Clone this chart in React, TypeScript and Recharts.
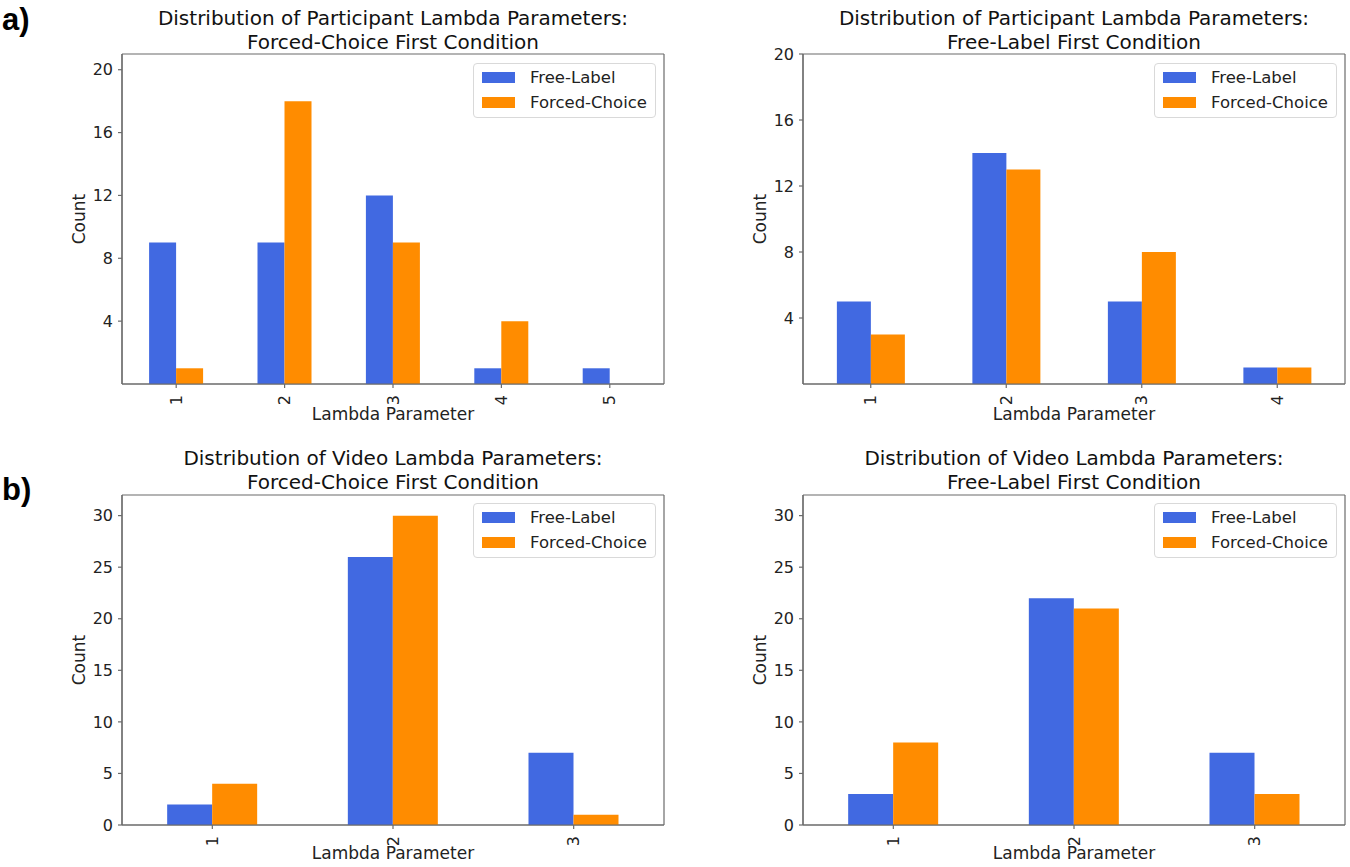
import { BarChart, Bar, XAxis, YAxis, Legend, Label, CartesianGrid } from 'recharts';

const FONT = '"DejaVu Sans", sans-serif';
const BLUE = '#4169E1';
const ORANGE = '#FF8C00';
const AXIS = '#6b6b6b';

// participant lambda, forced-choice first
const partFcCats = ['1', '2', '3', '4', '5'];
const partFcFree = [9, 9, 12, 1, 1];
const partFcForced = [1, 18, 9, 4, 0];

// participant lambda, free-label first
const partFlCats = ['1', '2', '3', '4'];
const partFlFree = [5, 14, 5, 1];
const partFlForced = [3, 13, 8, 1];

// video lambda, forced-choice first
const vidFcCats = ['1', '2', '3'];
const vidFcFree = [2, 26, 7];
const vidFcForced = [4, 30, 1];

// video lambda, free-label first
const vidFlCats = ['1', '2', '3'];
const vidFlFree = [3, 22, 7];
const vidFlForced = [8, 21, 3];

const partTicks = [4, 8, 12, 16, 20];
const vidTicks = [0, 5, 10, 15, 20, 25, 30];

const XTick = ({ x, y, payload }: any) => (
  <text
    x={x}
    y={y}
    transform={`rotate(-90 ${x} ${y})`}
    textAnchor="end"
    dominantBaseline="central"
    fontSize={16}
    fontFamily={FONT}
    fill="#222"
  >
    {payload.value}
  </text>
);

const LegendBox = () => (
  <div
    style={{
      width: 183,
      height: 55,
      boxSizing: 'border-box',
      border: '1px solid #d9d9d9',
      borderRadius: 4,
      background: 'rgba(255,255,255,0.8)',
      position: 'relative',
      fontFamily: FONT,
      fontSize: 16.5,
      color: '#222',
    }}
  >
    {[
      { name: 'Free-Label', color: BLUE, cy: 14 },
      { name: 'Forced-Choice', color: ORANGE, cy: 39 },
    ].map((e) => (
      <div key={e.name}>
        <div style={{ position: 'absolute', left: 8, top: e.cy - 6, width: 33, height: 11, background: e.color }} />
        <div style={{ position: 'absolute', left: 56, top: e.cy - 10, lineHeight: '20px', whiteSpace: 'nowrap' }}>{e.name}</div>
      </div>
    ))}
  </div>
);

interface PanelProps {
  left: number;
  top: number;
  width: number;
  height: number;
  margin: { top: number; right: number; bottom: number; left: number };
  cats: string[];
  free: number[];
  forced: number[];
  domain: [number, number];
  ticks: number[];
  title: string[];
  titleTop: number;
  legendTop: number;
  legendLeft: number;
  xLabelDy: number;
}

const Panel = (p: PanelProps) => {
  const data = p.cats.map((c, i) => ({ cat: c, free: p.free[i], forced: p.forced[i] }));
  const plotLeft = p.margin.left + 62;
  const plotRight = p.width - p.margin.right;
  const cx = (plotLeft + plotRight) / 2;
  return (
    <div style={{ position: 'absolute', left: p.left, top: p.top, width: p.width, height: p.height }}>
      <div
        style={{
          position: 'absolute',
          top: p.titleTop,
          left: cx - 300,
          width: 600,
          textAlign: 'center',
          fontFamily: FONT,
          fontSize: 20,
          lineHeight: '24px',
          color: '#111',
        }}
      >
        {p.title.map((t) => (
          <div key={t}>{t}</div>
        ))}
      </div>
      <BarChart width={p.width} height={p.height} data={data} margin={p.margin} barCategoryGap="25%" barGap={0}>
        {/* plot frame: lines at the four edges of the plot area */}
        <CartesianGrid
          stroke={AXIS}
          strokeWidth={1.2}
          horizontalCoordinatesGenerator={({ offset }: any) => [offset.top, offset.top + offset.height]}
          verticalCoordinatesGenerator={({ offset }: any) => [offset.left, offset.left + offset.width]}
        />
        <XAxis
          dataKey="cat"
          interval={0}
          height={40}
          tickSize={4}
          tickMargin={7}
          stroke={AXIS}
          strokeWidth={1.2}
          tick={<XTick />}
        >
          <Label
            content={({ viewBox }: any) => (
              <text
                x={viewBox.x + viewBox.width / 2}
                y={viewBox.y + p.xLabelDy}
                textAnchor="middle"
                dominantBaseline="central"
                fontSize={17}
                fontFamily={FONT}
                fill="#222"
              >
                Lambda Parameter
              </text>
            )}
          />
        </XAxis>
        <YAxis
          width={62}
          domain={p.domain}
          ticks={p.ticks}
          interval={0}
          tickSize={4}
          tickMargin={5}
          stroke={AXIS}
          strokeWidth={1.2}
          tick={{ fontSize: 16, fontFamily: FONT, fill: '#222' }}
        >
          <Label
            content={({ viewBox }: any) => {
              const x = viewBox.x + 19;
              const y = viewBox.y + viewBox.height / 2;
              return (
                <text
                  x={x}
                  y={y}
                  transform={`rotate(-90 ${x} ${y})`}
                  textAnchor="middle"
                  dominantBaseline="central"
                  fontSize={17}
                  fontFamily={FONT}
                  fill="#222"
                >
                  Count
                </text>
              );
            }}
          />
        </YAxis>
        <Legend
          layout="vertical"
          align="center"
          verticalAlign="middle"
          wrapperStyle={{ top: p.legendTop, left: p.legendLeft, width: 183, height: 55 }}
          content={() => <LegendBox />}
        />
        <Bar dataKey="free" name="Free-Label" fill={BLUE} isAnimationActive={false} />
        <Bar dataKey="forced" name="Forced-Choice" fill={ORANGE} isAnimationActive={false} />
      </BarChart>
    </div>
  );
};

const tagStyle = {
  position: 'absolute' as const,
  left: 2,
  fontFamily: '"Liberation Sans", Arial, sans-serif',
  fontWeight: 700,
  fontSize: 31,
  lineHeight: '30px',
  color: '#000',
};

export default function App() {
  return (
    <div style={{ position: 'absolute', left: 0, top: 0, width: 1350, height: 867, background: '#fff', overflow: 'hidden' }}>
      <div style={{ ...tagStyle, top: 5 }}>a)</div>
      <div style={{ ...tagStyle, top: 475 }}>b)</div>
      <Panel
        left={0}
        top={0}
        width={680}
        height={430}
        margin={{ top: 54, right: 16, bottom: 6, left: 60 }}
        cats={partFcCats}
        free={partFcFree}
        forced={partFcForced}
        domain={[0, 21]}
        ticks={partTicks}
        title={['Distribution of Participant Lambda Parameters:', 'Forced-Choice First Condition']}
        titleTop={6}
        legendTop={63}
        legendLeft={473}
        xLabelDy={30}
      />
      <Panel
        left={680}
        top={0}
        width={670}
        height={430}
        margin={{ top: 54, right: 5, bottom: 6, left: 61 }}
        cats={partFlCats}
        free={partFlFree}
        forced={partFlForced}
        domain={[0, 20]}
        ticks={partTicks}
        title={['Distribution of Participant Lambda Parameters:', 'Free-Label First Condition']}
        titleTop={6}
        legendTop={63}
        legendLeft={474}
        xLabelDy={30}
      />
      <Panel
        left={0}
        top={430}
        width={680}
        height={437}
        margin={{ top: 65, right: 16, bottom: 2, left: 60 }}
        cats={vidFcCats}
        free={vidFcFree}
        forced={vidFcForced}
        domain={[0, 32]}
        ticks={vidTicks}
        title={['Distribution of Video Lambda Parameters:', 'Forced-Choice First Condition']}
        titleTop={16}
        legendTop={73}
        legendLeft={473}
        xLabelDy={28}
      />
      <Panel
        left={680}
        top={430}
        width={670}
        height={437}
        margin={{ top: 65, right: 5, bottom: 2, left: 61 }}
        cats={vidFlCats}
        free={vidFlFree}
        forced={vidFlForced}
        domain={[0, 32]}
        ticks={vidTicks}
        title={['Distribution of Video Lambda Parameters:', 'Free-Label First Condition']}
        titleTop={16}
        legendTop={73}
        legendLeft={474}
        xLabelDy={28}
      />
    </div>
  );
}
